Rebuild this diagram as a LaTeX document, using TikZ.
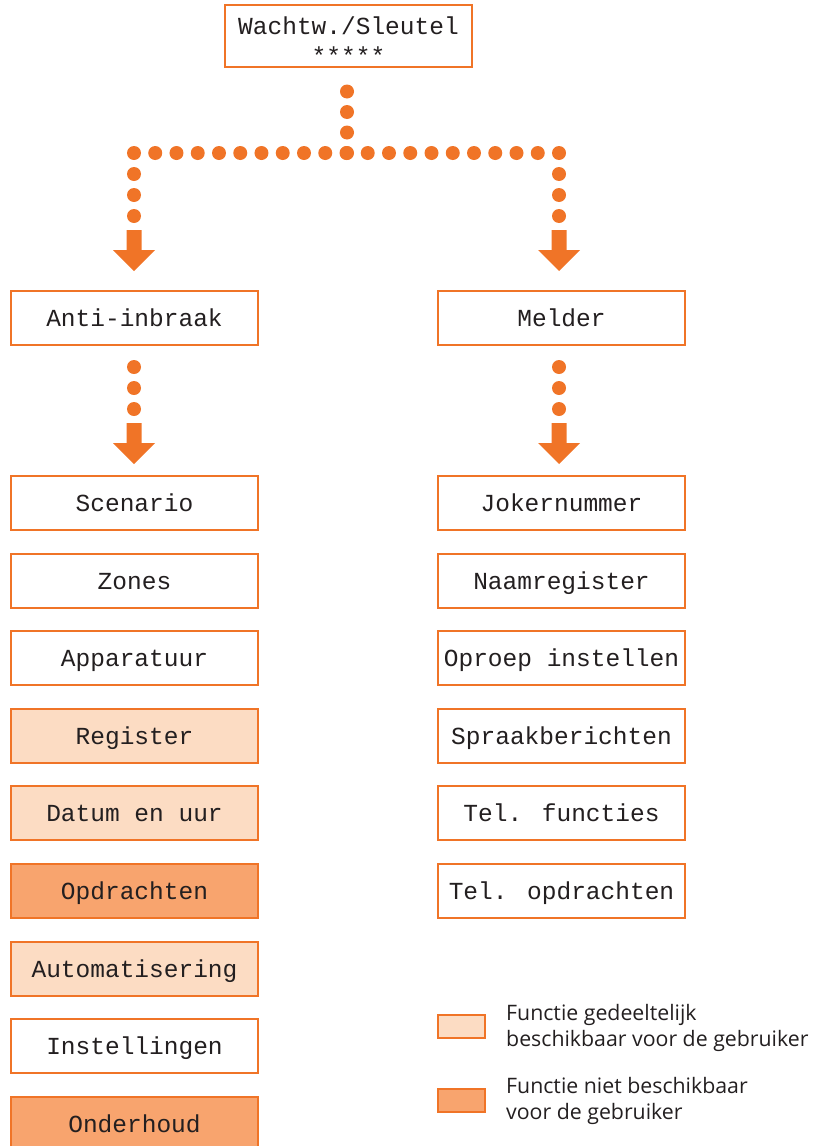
\documentclass[tikz,border=0pt]{standalone}
\usepackage{fontspec}
\newfontfamily\monofnt{Liberation Mono}
\newfontfamily\legfnt{Open Sans}
\usetikzlibrary{calc}
\definecolor{ora}{HTML}{F07427}
\definecolor{lightfill}{HTML}{FCDCC3}
\definecolor{darkfill}{HTML}{F8A46E}
\definecolor{txt}{HTML}{231F20}
\tikzset{
  fbox/.style={draw=ora, line width=2pt, minimum width=247pt, minimum height=54pt, inner sep=0pt,
    font=\monofnt\fontsize{24.5}{24}\selectfont, text=txt, fill=white, text height=17pt, text depth=0pt},
  partial/.style={fill=lightfill},
  nouse/.style={fill=darkfill},
  toptext/.style={font=\monofnt\fontsize{24.5}{24}\selectfont, text=txt, inner sep=0pt, anchor=base},
  legbox/.style={draw=ora, line width=2pt, minimum width=47pt, minimum height=23pt, inner sep=0pt},
  legtext/.style={anchor=base west, font=\legfnt\fontsize{21.3}{27}\selectfont, text=txt, inner sep=0pt},
  downarrow/.pic={\fill[ora] (0,0) -- (-21,-21) -- (-7.5,-21) -- (-7.5,-41) -- (7.5,-41) -- (7.5,-21) -- (21,-21) -- cycle;}
}
\begin{document}
\begin{tikzpicture}[x=1pt,y=-1pt]
\useasboundingbox (0,0) rectangle (813,1146);
% top box
\node[fbox, minimum height=62pt] (top) at (348.5,36) {};
\node[toptext] (topa) at ($(top.center)+(0,-1.5)$) {Wachtw./Sleutel};
\node[toptext] (topb) at ($(top.center)+(0,28)$) {*****};
% level 1
\node[fbox] (anti) at (134.5,318) {Anti-inbraak};
\node[fbox] (melder) at (561.5,318) {Melder};
% dots from top
\coordinate (jn) at (347,153);
\coordinate (lc) at (134,153);
\coordinate (rc) at (559,153);
\coordinate (ts) at ($(top.south)+(-1.5,23.5)$);
\foreach \i in {0,...,3} \fill[ora] ($(ts)!\i/3!(jn)$) circle (7);
\foreach \i in {0,...,20} \fill[ora] ($(lc)!\i/20!(rc)$) circle (7);
\foreach \i in {1,...,3} {
  \fill[ora] ($(lc)+(0,21*\i)$) circle (7);
  \fill[ora] ($(rc)+(0,21*\i)$) circle (7);
}
\coordinate (la) at ($(anti.north)+(-0.5,-19)$);
\coordinate (ra) at ($(melder.north)+(-2.5,-19)$);
\pic at (la) {downarrow};
\pic at (ra) {downarrow};
% left column
\foreach \name/\txt/\sty [count=\k from 0] in {
  scen/Scenario/, zones/Zones/, app/Apparatuur/, reg/Register/partial, dat/Datum en uur/partial,
  opd/Opdrachten/nouse, aut/Automatisering/partial, inst/Instellingen/, ond/Onderhoud/nouse} {
  \node[fbox,\sty] (\name) at (134.5,503+77.6*\k) {\txt};
}
\foreach \name/\txt [count=\k from 0] in {
  jok/Jokernummer, naam/Naamregister, opr/Oproep instellen, spr/Spraakberichten,
  telf/Tel. functies, telo/Tel. opdrachten} {
  \node[fbox] (\name) at (561.5,503+77.6*\k) {\txt};
}
% second level dots and arrows
\foreach \i in {0,...,2} {
  \fill[ora] ($(anti.south)+(-0.5,21+21*\i)$) circle (7);
  \fill[ora] ($(melder.south)+(-2.5,21+21*\i)$) circle (7);
}
\coordinate (la2) at ($(scen.north)+(-0.5,-11)$);
\coordinate (ra2) at ($(jok.north)+(-2.5,-11)$);
\pic at (la2) {downarrow};
\pic at (ra2) {downarrow};
% legend
\node[legbox, fill=lightfill] (lg1) at (461.5,1026.5) {};
\node[legbox, fill=darkfill] (lg2) at (461.5,1100.5) {};
\node[legtext] (lt1a) at (506,1020) {Functie gedeeltelijk};
\node[legtext] (lt1b) at (506,1046.5) {beschikbaar voor de gebruiker};
\node[legtext] (lt2a) at (506,1093) {Functie niet beschikbaar};
\node[legtext] (lt2b) at (506,1119.5) {voor de gebruiker};
\end{tikzpicture}
\end{document}
